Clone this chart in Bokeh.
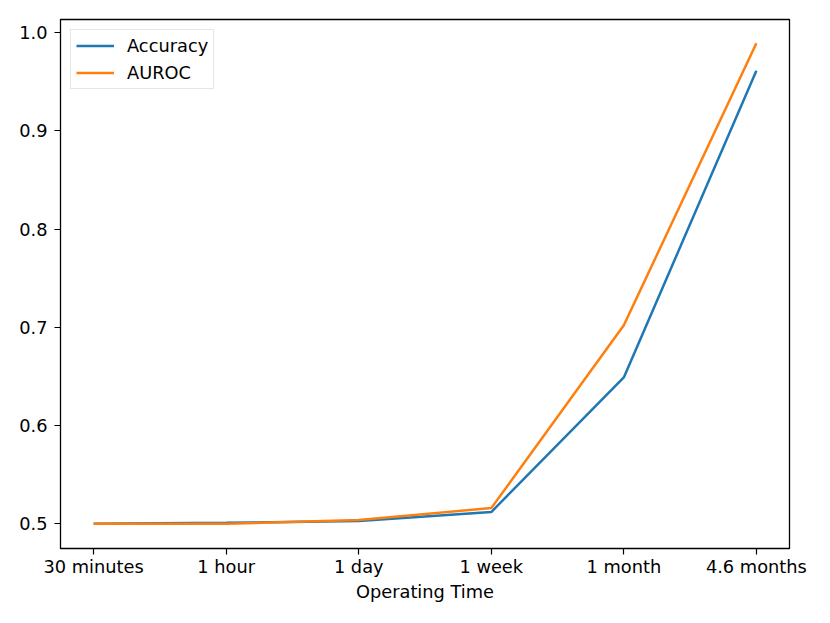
from bokeh.plotting import figure
from bokeh.models import Range1d, FixedTicker, Legend, LegendItem
from bokeh.embed import file_html
from bokeh.resources import INLINE

categories = ["30 minutes", "1 hour", "1 day", "1 week", "1 month", "4.6 months"]
accuracy = [0.500, 0.501, 0.503, 0.512, 0.649, 0.961]
auroc = [0.500, 0.500, 0.504, 0.516, 0.702, 0.989]
y_ticks = [0.5, 0.6, 0.7, 0.8, 0.9, 1.0]

xs = list(range(len(categories)))
FONT = "DejaVu Sans"
FS = "17.8px"

p = figure(width=822, height=615, output_backend="svg", toolbar_location=None,
           x_range=Range1d(-0.25, 5.25), y_range=Range1d(0.4749, 1.0132),
           min_border_left=60, min_border_top=19, min_border_right=33, min_border_bottom=67)
p.background_fill_color = "white"
p.border_fill_color = "white"
p.outline_line_color = "black"
p.outline_line_width = 1.3
p.grid.visible = False

r1 = p.line(xs, accuracy, line_color="#1f77b4", line_width=2.5)
r2 = p.line(xs, auroc, line_color="#ff7f0e", line_width=2.5)

p.xaxis.ticker = FixedTicker(ticks=xs)
p.xaxis.major_label_overrides = {i: c for i, c in enumerate(categories)}
p.yaxis.ticker = FixedTicker(ticks=y_ticks)
p.yaxis.major_label_overrides = {t: f"{t:.1f}" for t in y_ticks}
p.xaxis.axis_label = "Operating Time"

for ax in p.axis:
    ax.axis_line_color = None
    ax.major_tick_line_color = "black"
    ax.major_tick_line_width = 1.2
    ax.major_tick_out = 6
    ax.major_tick_in = 0
    ax.minor_tick_line_color = None
    ax.major_label_text_font = FONT
    ax.major_label_text_font_size = FS
    ax.major_label_text_color = "black"
    ax.axis_label_text_font = FONT
    ax.axis_label_text_font_size = FS
    ax.axis_label_text_font_style = "normal"
    ax.axis_label_text_color = "black"
p.yaxis.major_label_standoff = 7
p.xaxis.major_label_standoff = 1
p.xaxis.axis_label_standoff = 1

legend = Legend(items=[LegendItem(label="Accuracy", renderers=[r1]),
                       LegendItem(label="AUROC", renderers=[r2])],
                location="top_left")
legend.margin = 10
legend.padding = 5
legend.spacing = 6
legend.glyph_width = 38
legend.glyph_height = 21
legend.label_standoff = 13
legend.label_text_font = FONT
legend.label_text_font_size = FS
legend.label_text_color = "black"
legend.label_height = 21
legend.border_line_color = "#cccccc"
legend.border_line_width = 1
legend.background_fill_alpha = 0.8
p.add_layout(legend)

open("out.html", "w").write(file_html(p, INLINE))
